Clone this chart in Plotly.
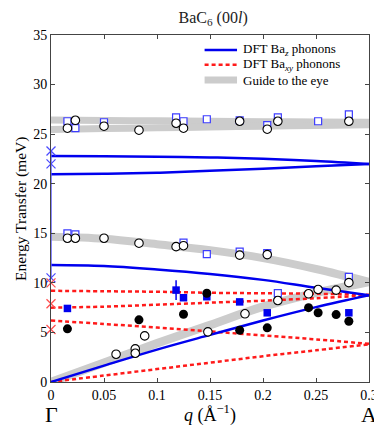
import plotly.graph_objects as go

# ---------------- data ----------------
q_line = [0, 0.05, 0.1, 0.15, 0.2, 0.25, 0.3]
# DFT Ba_z phonon branches
baz_top = [22.8, 22.77, 22.72, 22.65, 22.52, 22.3, 22.0]
baz_low = [20.96, 21.0, 21.1, 21.3, 21.5, 21.75, 22.0]
baz_opt = [11.8, 11.7, 11.35, 10.9, 10.3, 9.5, 8.75]
baz_ac = [0, 1.65, 3.27, 4.75, 6.2, 7.55, 8.75]
# DFT Ba_xy phonon branches
bxy_1 = [9.2, 9.15, 9.1, 9.0, 8.95, 8.9, 8.8]
bxy_2 = [7.5, 7.6, 7.8, 8.0, 8.2, 8.45, 8.75]
bxy_3 = [6.2, 5.85, 5.5, 5.1, 4.7, 4.3, 3.85]
bxy_4 = [0, 0.65, 1.3, 1.95, 2.6, 3.2, 3.8]
# guides to the eye
guide_top1 = [26.42, 26.38, 26.34, 26.3, 26.26, 26.22, 26.2]
guide_top2 = [25.48, 25.56, 25.64, 25.72, 25.8, 25.88, 25.96]
guide_mid = [14.65, 14.45, 13.9, 13.3, 12.5, 11.4, 10.1]
guide_ac = [0, 1.95, 3.9, 5.75, 7.6, 9.0, 10.1]

# Gamma-point DFT energies
gamma_z = [23.3, 22.0, 10.5]
gamma_xy = [10.0, 7.9, 5.3]
gamma_bar = [10.5, 23.3]

# measured: open circles
oc_q = [0.0155, 0.023, 0.050, 0.083, 0.118, 0.125, 0.178, 0.204, 0.214, 0.281,
        0.0155, 0.023, 0.050, 0.083, 0.118, 0.125, 0.178, 0.204,
        0.0614, 0.0795, 0.0795, 0.0884, 0.148, 0.183, 0.214, 0.243, 0.252, 0.269, 0.281]
oc_e = [25.6, 26.4, 25.8, 25.4, 26.1, 25.6, 26.3, 25.5, 26.3, 26.3,
        14.5, 14.5, 14.5, 14.0, 13.65, 13.75, 12.8, 12.85,
        2.8, 3.34, 2.9, 4.65, 5.06, 6.88, 8.22, 8.9, 9.33, 9.27, 10.02]
# measured: open squares
os_q = [0.0155, 0.023, 0.050, 0.118, 0.125, 0.147, 0.178, 0.204, 0.214, 0.252, 0.281,
        0.0155, 0.023, 0.125, 0.147, 0.178, 0.204, 0.281, 0.214]
os_e = [26.3, 25.6, 26.2, 26.7, 26.3, 26.5, 26.4, 25.9, 26.7, 26.3, 27.0,
        15.0, 14.9, 14.05, 12.9, 13.15, 13.0, 10.6, 8.97]
# measured: filled circles
fc_q = [0.0155, 0.083, 0.125, 0.147, 0.178, 0.204, 0.243, 0.252, 0.269, 0.281]
fc_e = [5.36, 6.27, 6.83, 8.95, 5.22, 5.46, 7.5, 6.98, 6.8, 6.13]
# measured: filled squares
fs_q = [0.0155, 0.118, 0.125, 0.147, 0.178, 0.204, 0.281]
fs_e = [7.42, 9.27, 8.5, 8.6, 8.08, 6.98, 6.98]
fs_err = [0, 1.0, 0, 0, 0, 0, 0]

x_ticks = [0, 0.05, 0.1, 0.15, 0.2, 0.25, 0.3]
x_ticklabels = ["0", "0.05", "0.1", "0.15", "0.2", "0.25", "0.3"]
y_ticks = [0, 5, 10, 15, 20, 25, 30, 35]

legend_labels = ["DFT Ba<sub><i>z</i></sub> phonons", "DFT Ba<sub><i>xy</i></sub> phonons", "Guide to the eye"]

FONT = "Liberation Serif, Times New Roman, DejaVu Serif, serif"
GRAY = "#cccccc"
BLUE = "#0000ee"
RED = "#ff1a1a"

fig = go.Figure()

# guides
for g, w in [(guide_ac, 8.5), (guide_mid, 8), (guide_top1, 7), (guide_top2, 7)]:
    fig.add_trace(go.Scatter(x=q_line, y=g, mode="lines", line=dict(color=GRAY, width=w, shape="spline"),
                             showlegend=False, hoverinfo="skip"))

# Ba_xy
for b in [bxy_1, bxy_2, bxy_3, bxy_4]:
    fig.add_trace(go.Scatter(x=q_line, y=b, mode="lines",
                             line=dict(color=RED, width=2.5, dash="4px,3px", shape="spline"),
                             showlegend=False))

# Ba_z
for b in [baz_top, baz_low, baz_opt, baz_ac]:
    fig.add_trace(go.Scatter(x=q_line, y=b, mode="lines", line=dict(color=BLUE, width=2.5, shape="spline"),
                             showlegend=False))

# Gamma point vertical bar + crosses
fig.add_trace(go.Scatter(x=[0, 0], y=gamma_bar, mode="lines", line=dict(color="#6464ff", width=1.5),
                         showlegend=False, cliponaxis=False))
fig.add_trace(go.Scatter(x=[0] * len(gamma_z), y=gamma_z, mode="markers", cliponaxis=False,
                         marker=dict(symbol="x-thin", size=9, line=dict(color="#4a4aff", width=1.3)),
                         showlegend=False))
fig.add_trace(go.Scatter(x=[0] * len(gamma_xy), y=gamma_xy, mode="markers", cliponaxis=False,
                         marker=dict(symbol="x-thin", size=9, line=dict(color="#ff5050", width=1.3)),
                         showlegend=False))

# measured points
fig.add_trace(go.Scatter(x=os_q, y=os_e, mode="markers", showlegend=False,
                         marker=dict(symbol="square", size=7, color="white",
                                     line=dict(color="#3c3cff", width=1.2))))
fig.add_trace(go.Scatter(x=oc_q, y=oc_e, mode="markers", showlegend=False,
                         marker=dict(symbol="circle", size=8.5, color="white",
                                     line=dict(color="black", width=1.1))))
fig.add_trace(go.Scatter(x=fs_q, y=fs_e, mode="markers", showlegend=False,
                         error_y=dict(type="data", array=fs_err, color=BLUE, thickness=1.5, width=0),
                         marker=dict(symbol="square", size=7.5, color=BLUE, line=dict(width=0))))
fig.add_trace(go.Scatter(x=fc_q, y=fc_e, mode="markers", showlegend=False,
                         marker=dict(symbol="circle", size=9, color="black", line=dict(width=0))))

axis_common = dict(showgrid=False, zeroline=False, showline=True, linecolor="#444", linewidth=1,
                   mirror="ticks", ticks="inside", ticklen=4, tickcolor="#444",
                   tickfont=dict(family=FONT, size=14, color="black"))

fig.update_layout(
    width=382, height=426,
    margin=dict(l=43, r=16, t=27, b=52),
    plot_bgcolor="white", paper_bgcolor="white",
    font=dict(family=FONT, color="black"),
    title=dict(text="BaC<sub>6</sub> (00<i>l</i>)", x=0.537, xanchor="center", y=0.978, yanchor="middle",
               font=dict(family=FONT, size=16, color="#222")),
    xaxis=dict(range=[0, 0.3], tickvals=x_ticks, ticktext=x_ticklabels, **axis_common),
    yaxis=dict(range=[0, 35], tickvals=y_ticks, **axis_common),
    showlegend=False,
)

# manual legend (paper coords: x=(px-43)/323, y=(374-py)/347)
leg_styles = [dict(color=BLUE, width=2.5), dict(color=RED, width=2.5, dash="4px,3px"), dict(color=GRAY, width=7)]
leg_y = [0.957, 0.914, 0.870]
for lab, sty, yy in zip(legend_labels, leg_styles, leg_y):
    fig.add_shape(type="line", xref="paper", yref="paper", x0=0.483, x1=0.585, y0=yy, y1=yy, line=sty)
    fig.add_annotation(text=lab, xref="paper", yref="paper", x=0.597, y=yy, xanchor="left", yanchor="middle",
                       showarrow=False, font=dict(family=FONT, size=13, color="black"))

fig.add_annotation(text="Energy Transfer (meV)", xref="paper", yref="paper", x=-0.096, y=0.5,
                   xanchor="center", yanchor="middle", textangle=-90, showarrow=False,
                   font=dict(family=FONT, size=15.5))
fig.add_annotation(text="<i>q</i> (Å<sup>−1</sup>)", xref="paper", yref="paper", x=0.5, y=-0.092,
                   xanchor="center", yanchor="middle", showarrow=False, font=dict(family=FONT, size=18))
fig.add_annotation(text="Γ", xref="x", yref="paper", x=0, y=-0.095, xanchor="center", yanchor="middle",
                   showarrow=False, font=dict(family=FONT, size=22))
fig.add_annotation(text="A", xref="x", yref="paper", x=0.3, y=-0.095, xanchor="center", yanchor="middle",
                   showarrow=False, font=dict(family=FONT, size=22))

fig.write_html("out.html")
